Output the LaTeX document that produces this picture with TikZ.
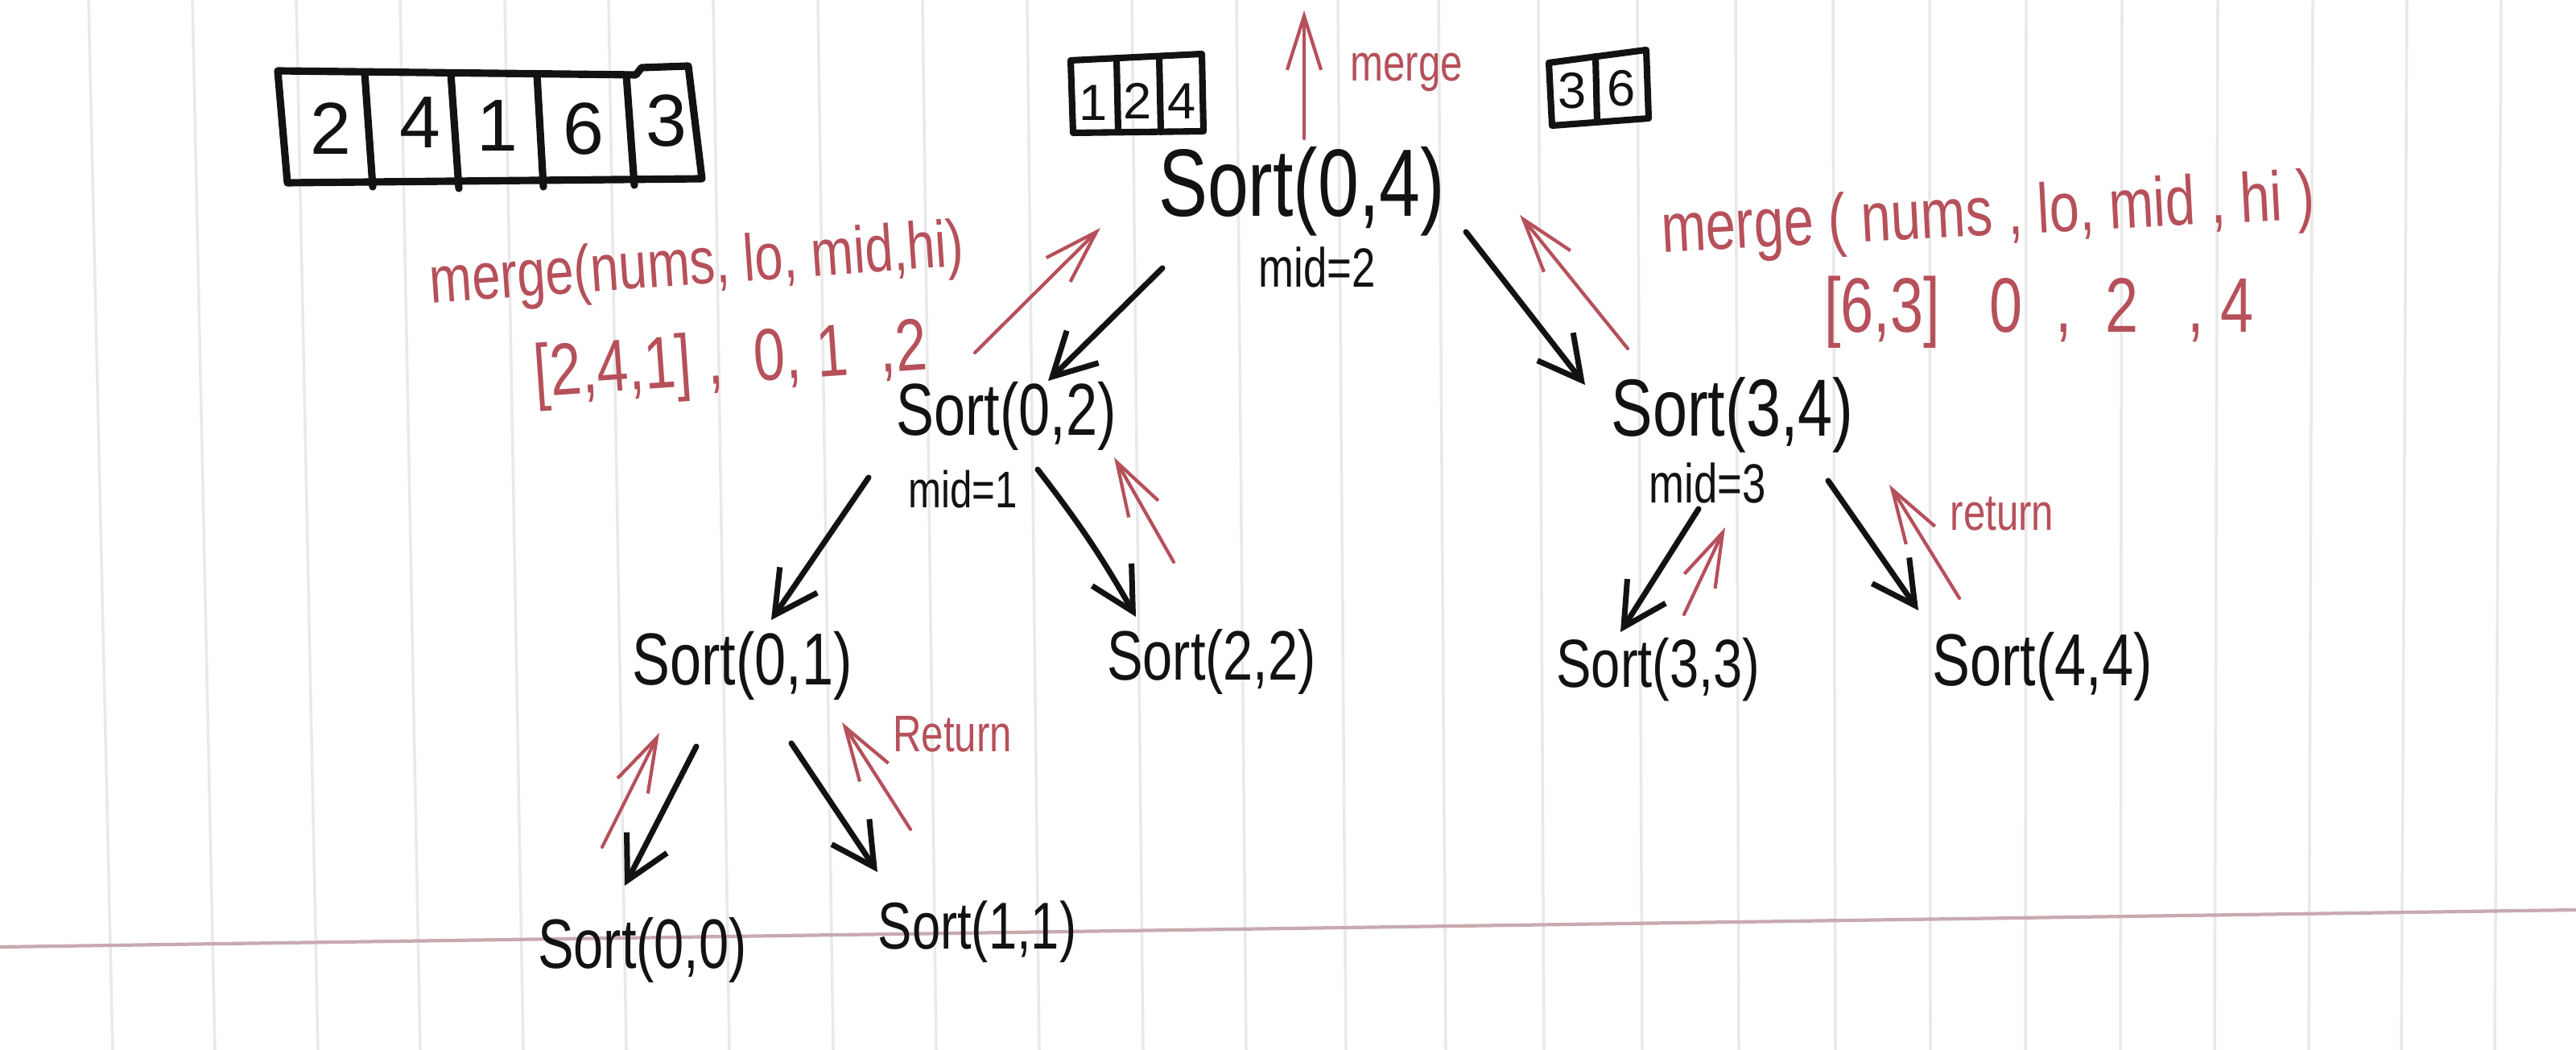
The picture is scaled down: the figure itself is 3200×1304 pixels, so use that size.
\documentclass[tikz,border=0pt]{standalone}
\usepackage{fontspec}
\setmainfont{Liberation Sans}
\usepackage{graphicx}
\usetikzlibrary{arrows.meta}
\definecolor{ink}{RGB}{18,18,18}
\definecolor{redink}{RGB}{182,80,90}
\definecolor{paperrule}{RGB}{233,233,233}
\definecolor{pinkrule}{RGB}{200,170,175}
\newcommand{\tallx}[1]{\scalebox{1}[1.3]{#1}}
\begin{document}
\begin{tikzpicture}[x=0.01cm,y=-0.01cm,
  lbl/.style={inner sep=0pt, text=ink},
  rlbl/.style={inner sep=0pt, text=redink},
  fs/.style={font=\fontsize{#1}{#1}\selectfont},
  bk/.style={draw=ink, line width=2pt, line cap=round, line join=round,
    -{Straight Barb[length=15pt,width=16pt]}},
  rd/.style={draw=redink, line width=1.2pt, line cap=round, line join=round,
    -{Straight Barb[length=19pt,width=12pt]}},
  cell/.style={draw=ink, line width=2.6pt, line join=round, line cap=round},
  ruleline/.style={draw=paperrule, line width=1pt}
]
\fill[white] (0,0) rectangle (3200,1304);
\useasboundingbox (0,0) rectangle (3200,1304);

% notebook rules
\foreach \xt/\xb in {110/140,239/267,368/395,497/522,627/650,756/778,886/906,
  1016/1035,1146/1163,1276/1291,1406/1420,1536/1548,1662/1672,1787/1796,
  1911/1918,2034/2040,2156/2160,2277/2280,2397/2398,2517/2516,2636/2634,
  2755/2751,2873/2868,2990/2983,3107/3099}
  \draw[ruleline] (\xt,0) -- (\xb,1304);
\draw[pinkrule, line width=1.2pt] (0,1176) -- (3200,1130);

% initial array
\draw[cell] (345,88) -- (790,93) -- (797,84) -- (855,82) -- (872,222) -- (357,227) -- cycle;
\draw[cell] (453,90) -- (463,232);
\draw[cell] (560,91) -- (570,234);
\draw[cell] (667,92) -- (675,232);
\draw[cell] (778,93) -- (788,230);
\node[lbl, fs=26] (d1) at (411,160) {2};
\node[lbl, fs=26] (d2) at (522,152) {4};
\node[lbl, fs=26] (d3) at (618,156) {1};
\node[lbl, fs=26] (d4) at (725,160) {6};
\node[lbl, fs=26] (d5) at (828,150) {3};

% merged left half
\draw[cell, line width=2.3pt] (1330,75) -- (1493,67) -- (1495,163) -- (1333,165) -- cycle;
\draw[cell, line width=2.3pt] (1387,73) -- (1389,163);
\draw[cell, line width=2.3pt] (1440,71) -- (1442,164);
\node[lbl, fs=18] (e1) at (1358,128) {1};
\node[lbl, fs=18] (e2) at (1413,125) {2};
\node[lbl, fs=18] (e3) at (1468,126) {4};

% merged right half
\draw[cell, line width=2.3pt] (1924,78) -- (2045,62) -- (2048,147) -- (1928,156) -- cycle;
\draw[cell, line width=2.3pt] (1982,70) -- (1984,152);
\node[lbl, fs=18] (f1) at (1953,113) {3};
\node[lbl, fs=18] (f2) at (2014,110) {6};

% call tree
\node[lbl, fs=26] (s04) at (1617,238) {\tallx{Sort(0,4)}};
\node[lbl, fs=15] (m04) at (1636,332) {\tallx{mid=2}};
\node[lbl, fs=20] (s02) at (1250,517) {\tallx{Sort(0,2)}};
\node[lbl, fs=14] (m02) at (1196,608) {\tallx{mid=1}};
\node[lbl, fs=22] (s34) at (2152,515) {\tallx{Sort(3,4)}};
\node[lbl, fs=15] (m34) at (2121,600) {\tallx{mid=3}};
\node[lbl, fs=20] (s01) at (922,827) {\tallx{Sort(0,1)}};
\node[lbl, fs=19] (s22) at (1505,822) {\tallx{Sort(2,2)}};
\node[lbl, fs=18.5] (s33) at (2060,832) {\tallx{Sort(3,3)}};
\node[lbl, fs=20] (s44) at (2537,828) {\tallx{Sort(4,4)}};
\node[lbl, fs=19] (s00) at (798,1180) {\tallx{Sort(0,0)}};
\node[lbl, fs=18] (s11) at (1214,1157) {\tallx{Sort(1,1)}};

% red annotations
\node[rlbl, fs=18, rotate=4] (mgl) at (866,332) {\tallx{merge(nums, lo, mid,hi)}};
\node[rlbl, fs=20, rotate=4] (argl) at (908,452) {\tallx{[2,4,1]~,~~0,~1~~,2}};
\node[rlbl, fs=19, rotate=3] (mgr) at (2470,270) {\tallx{merge ( nums , lo, mid , hi )}};
\node[rlbl, fs=21] (argr) at (2533,388) {\tallx{[6,3]~~~0~~,~~2~~~,~4}};
\node[rlbl, fs=14] (mtop) at (1747,90) {\tallx{merge}};
\node[rlbl, fs=14] (retl) at (1183,912) {\tallx{Return}};
\node[rlbl, fs=14] (retr) at (2487,638) {\tallx{return}};

% connector end points
\coordinate (a1s) at (1444,333); \coordinate (a1e) at (1302,473);
\coordinate (a2s) at (1821,288); \coordinate (a2e) at (1969,478);
\coordinate (a3s) at (1079,593); \coordinate (a3e) at (958,770);
\coordinate (a4s) at (1289,583); \coordinate (a4e) at (1411,766);
\coordinate (a5s) at (2110,632); \coordinate (a5e) at (2013,785);
\coordinate (a6s) at (2271,597); \coordinate (a6e) at (2383,758);
\coordinate (a7s) at (865,927);  \coordinate (a7e) at (776,1100);
\coordinate (a8s) at (983,923);  \coordinate (a8e) at (1090,1083);

\coordinate (r1s) at (1211,438); \coordinate (r1e) at (1367,283);
\coordinate (r2s) at (2022,433); \coordinate (r2e) at (1888,267);
\coordinate (r3s) at (1458,698); \coordinate (r3e) at (1384,568);
\coordinate (r4s) at (2092,763); \coordinate (r4e) at (2143,655);
\coordinate (r5s) at (2434,743); \coordinate (r5e) at (2347,602);
\coordinate (r6s) at (748,1052); \coordinate (r6e) at (819,910);
\coordinate (r7s) at (1131,1030); \coordinate (r7e) at (1046,897);
\coordinate (r8s) at (1620,172); \coordinate (r8e) at (1620,13);

% black calls
\draw[bk] (a1s) -- (a1e);
\draw[bk] (a2s) -- (a2e);
\draw[bk] (a3s) -- (a3e);
\draw[bk] (a4s) to[bend left=4] (a4e);
\draw[bk] (a5s) -- (a5e);
\draw[bk] (a6s) -- (a6e);
\draw[bk] (a7s) -- (a7e);
\draw[bk] (a8s) -- (a8e);

% red returns
\draw[rd] (r1s) -- (r1e);
\draw[rd] (r2s) -- (r2e);
\draw[rd] (r3s) -- (r3e);
\draw[rd] (r4s) -- (r4e);
\draw[rd] (r5s) -- (r5e);
\draw[rd] (r6s) -- (r6e);
\draw[rd] (r7s) -- (r7e);
\draw[rd] (r8s) -- (r8e);
\end{tikzpicture}
\end{document}
